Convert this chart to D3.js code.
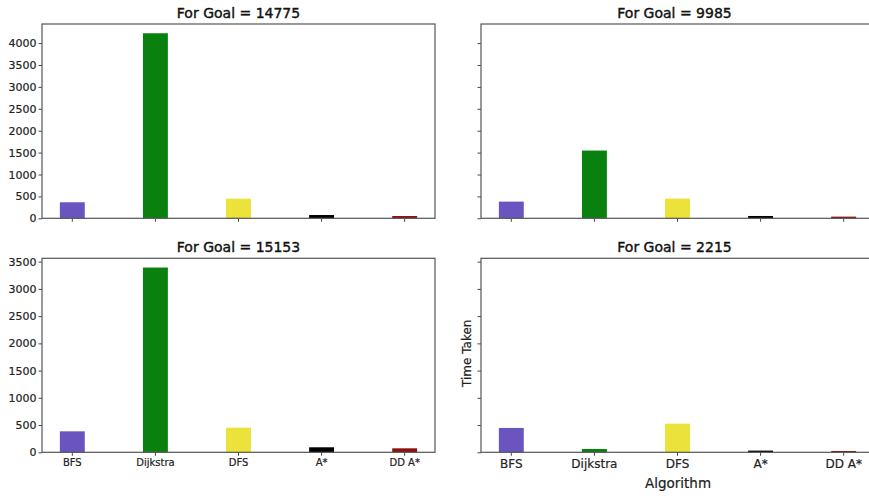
<!DOCTYPE html>
<html>
<head>
<meta charset="utf-8">
<script src="https://cdn.jsdelivr.net/npm/d3@7"></script>
<style>
  html, body { margin: 0; padding: 0; background: #fff; }
  svg { display: block; font-family: "DejaVu Sans", sans-serif; }
</style>
</head>
<body>
<svg id="chart" width="869" height="496"></svg>
<script>
// Algorithms compared in every panel
const algorithms = ["BFS", "Dijkstra", "DFS", "A*", "DD A*"];
const barColors = ["#6a55c0", "#0a800f", "#ebe33a", "#000000", "#8b1010"];

// Goal node for each panel
const goals = [14775, 9985, 15153, 2215];

// Time taken per algorithm, one list per goal
const timesGoal14775 = [366, 4225, 448, 75, 52];
const timesGoal9985  = [381, 1547, 450, 53, 38];
const timesGoal15153 = [385, 3392, 452, 92, 73];
const timesGoal2215  = [447, 61, 526, 31, 24];

// Y tick values for each row
const topRowTicks = [0, 500, 1000, 1500, 2000, 2500, 3000, 3500, 4000];
const bottomRowTicks = [0, 500, 1000, 1500, 2000, 2500, 3000, 3500];

const svg = d3.select("#chart");

const panels = [
  { goal: goals[0], values: timesGoal14775, x0: 42,  x1: 435, y0: 24,    y1: 218.3, row: 0, col: 0 },
  { goal: goals[1], values: timesGoal9985,  x0: 481, x1: 874, y0: 24,    y1: 218.3, row: 0, col: 1 },
  { goal: goals[2], values: timesGoal15153, x0: 42,  x1: 435, y0: 258.3, y1: 452.3, row: 1, col: 0 },
  { goal: goals[3], values: timesGoal2215,  x0: 481, x1: 874, y0: 258.3, y1: 452.3, row: 1, col: 1 }
];

// Rows share their y scale (max value plus a 5% margin)
const rowMax = [
  d3.max([...timesGoal14775, ...timesGoal9985]) * 1.05,
  d3.max([...timesGoal15153, ...timesGoal2215]) * 1.05
];
const rowTicks = [topRowTicks, bottomRowTicks];

panels.forEach(p => {
  const x = d3.scaleBand()
    .domain(algorithms)
    .range([p.x0, p.x1])
    .paddingInner(0.7)
    .paddingOuter(0.215)
    .align(0.5);

  const y = d3.scaleLinear()
    .domain([0, rowMax[p.row]])
    .range([p.y1, p.y0]);

  const g = svg.append("g");

  // bars
  g.selectAll("rect.bar")
    .data(p.values)
    .join("rect")
    .attr("class", "bar")
    .attr("x", (d, i) => x(algorithms[i]))
    .attr("width", x.bandwidth())
    .attr("y", d => y(d))
    .attr("height", d => y(0) - y(d))
    .attr("fill", (d, i) => barColors[i]);

  // y axis
  const yAxis = d3.axisLeft(y)
    .tickValues(rowTicks[p.row])
    .tickSize(3.5)
    .tickPadding(2)
    .tickFormat(p.col === 0 ? d3.format("d") : () => "");
  const ya = g.append("g")
    .attr("transform", `translate(${p.x0},0)`)
    .call(yAxis);
  ya.select(".domain").remove();
  ya.selectAll(".tick line").attr("stroke", "#333").attr("stroke-width", 0.9);
  ya.selectAll(".tick text")
    .attr("font-size", 11)
    .attr("fill", "#222")
    .attr("stroke", "#222")
    .attr("stroke-width", 0.2)
    .attr("font-family", "DejaVu Sans, sans-serif");

  // x axis
  const xAxis = d3.axisBottom(x)
    .tickSize(3.5)
    .tickPadding(p.col === 0 ? 3 : 4)
    .tickFormat(p.row === 1 ? (d => d) : () => "");
  const xa = g.append("g")
    .attr("transform", `translate(0,${p.y1})`)
    .call(xAxis);
  xa.select(".domain").remove();
  xa.selectAll(".tick line").attr("stroke", "#333").attr("stroke-width", 0.9);
  xa.selectAll(".tick text")
    .attr("font-size", p.col === 0 ? 10 : 12)
    .attr("fill", "#222")
    .attr("stroke", "#222")
    .attr("stroke-width", 0.2)
    .attr("font-family", "DejaVu Sans, sans-serif");

  // frame
  g.append("rect")
    .attr("x", p.x0)
    .attr("y", p.y0)
    .attr("width", p.x1 - p.x0)
    .attr("height", p.y1 - p.y0)
    .attr("fill", "none")
    .attr("stroke", "#555")
    .attr("stroke-width", 1.2);

  // title
  g.append("text")
    .attr("x", (p.x0 + p.x1) / 2 - (p.col === 1 ? 3 : 0))
    .attr("y", p.y0 - 6)
    .attr("text-anchor", "middle")
    .attr("font-size", 14)
    .attr("fill", "#111")
    .attr("stroke", "#111")
    .attr("stroke-width", 0.4)
    .text(`For Goal = ${p.goal}`);
});

// axis labels on the last panel
const last = panels[3];
svg.append("text")
  .attr("x", 678)
  .attr("y", 488)
  .attr("text-anchor", "middle")
  .attr("font-size", 13.5)
  .attr("fill", "#222")
  .attr("stroke", "#222")
  .attr("stroke-width", 0.2)
  .text("Algorithm");

svg.append("text")
  .attr("transform", `translate(471,${(last.y0 + last.y1) / 2 - 2}) rotate(-90)`)
  .attr("text-anchor", "middle")
  .attr("font-size", 12)
  .attr("fill", "#222")
  .attr("stroke", "#222")
  .attr("stroke-width", 0.2)
  .text("Time Taken");
</script>
</body>
</html>
